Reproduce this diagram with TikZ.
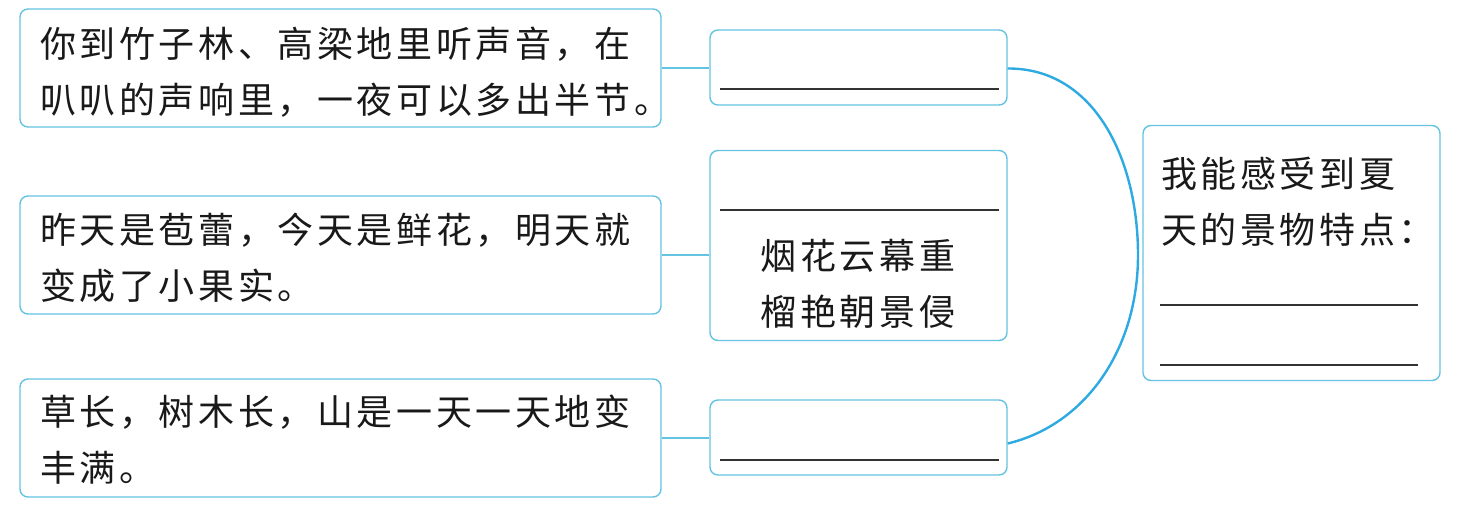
\documentclass[tikz,border=0pt]{standalone}
\usepackage{fontspec}
\newfontfamily\cjk[LetterSpace=10]{Noto Sans CJK SC}
\definecolor{boxblue}{RGB}{100,195,225}
\definecolor{arcblue}{RGB}{45,170,225}
\begin{document}
\begin{tikzpicture}[x=1pt,y=-1pt,
  box/.style={draw=boxblue,line width=1.4pt,rounded corners=8pt,inner sep=0pt,fill=white},
  txt/.style={font=\cjk\fontsize{36}{56}\selectfont,inner sep=0pt,text=black!90},
  blank/.style={line width=1.3pt,black!80},
  link/.style={draw=boxblue,line width=1.4pt},
  arc/.style={draw=arcblue,line width=2.4pt}]
\useasboundingbox (0,0) rectangle (1461,509);
% left boxes
\node[box,minimum width=641pt,minimum height=118pt] (b1) at (340.5,68) {};
\node[box,minimum width=641pt,minimum height=118pt] (b2) at (340.5,255) {};
\node[box,minimum width=641pt,minimum height=118pt] (b3) at (340.5,438) {};
\node[txt,anchor=west,align=left] (t1) at (40,72.5) {你到竹子林、高梁地里听声音，在\\叭叭的声响里，一夜可以多出半节。};
\node[txt,anchor=west,align=left] (t2) at (40,257.5) {昨天是苞蕾，今天是鲜花，明天就\\变成了小果实。};
\node[txt,anchor=west,align=left] (t3) at (40,440) {草长，树木长，山是一天一天地变\\丰满。};
% middle boxes
\node[box,minimum width=297pt,minimum height=75pt] (m1) at (858.5,67.5) {};
\node[box,minimum width=297pt,minimum height=190pt] (m2) at (858.5,245.5) {};
\node[box,minimum width=297pt,minimum height=75pt] (m3) at (858.5,437.5) {};
\node[txt,align=center] (t4) at (858,284) {烟花云幕重\\榴艳朝景侵};
\draw[blank] (720,89) -- (999,89);
\draw[blank] (720,210) -- (999,210);
\draw[blank] (720,460) -- (999,460);
% right box
\node[box,minimum width=297pt,minimum height=255pt] (r) at (1291.5,253) {};
\node[txt,anchor=west,align=left] (t5) at (1161,201.5) {我能感受到夏\\天的景物特点：};
\draw[blank] (1160,305) -- (1418,305);
\draw[blank] (1160,365) -- (1418,365);
% connectors
\draw[link] (b1.east) -- (b1.east -| m1.west);
\draw[link] (b2.east) -- (b2.east -| m2.west);
\draw[link] (b3.east) -- (b3.east -| m3.west);
\coordinate (arcmid) at (1138,255);
\draw[arc] ([yshift=-1pt]m1.east) .. controls (1095,68) and (1138,160) .. (arcmid)
  .. controls (1138,350) and (1085,425) .. ([yshift=-6pt]m3.east);
\end{tikzpicture}
\end{document}
